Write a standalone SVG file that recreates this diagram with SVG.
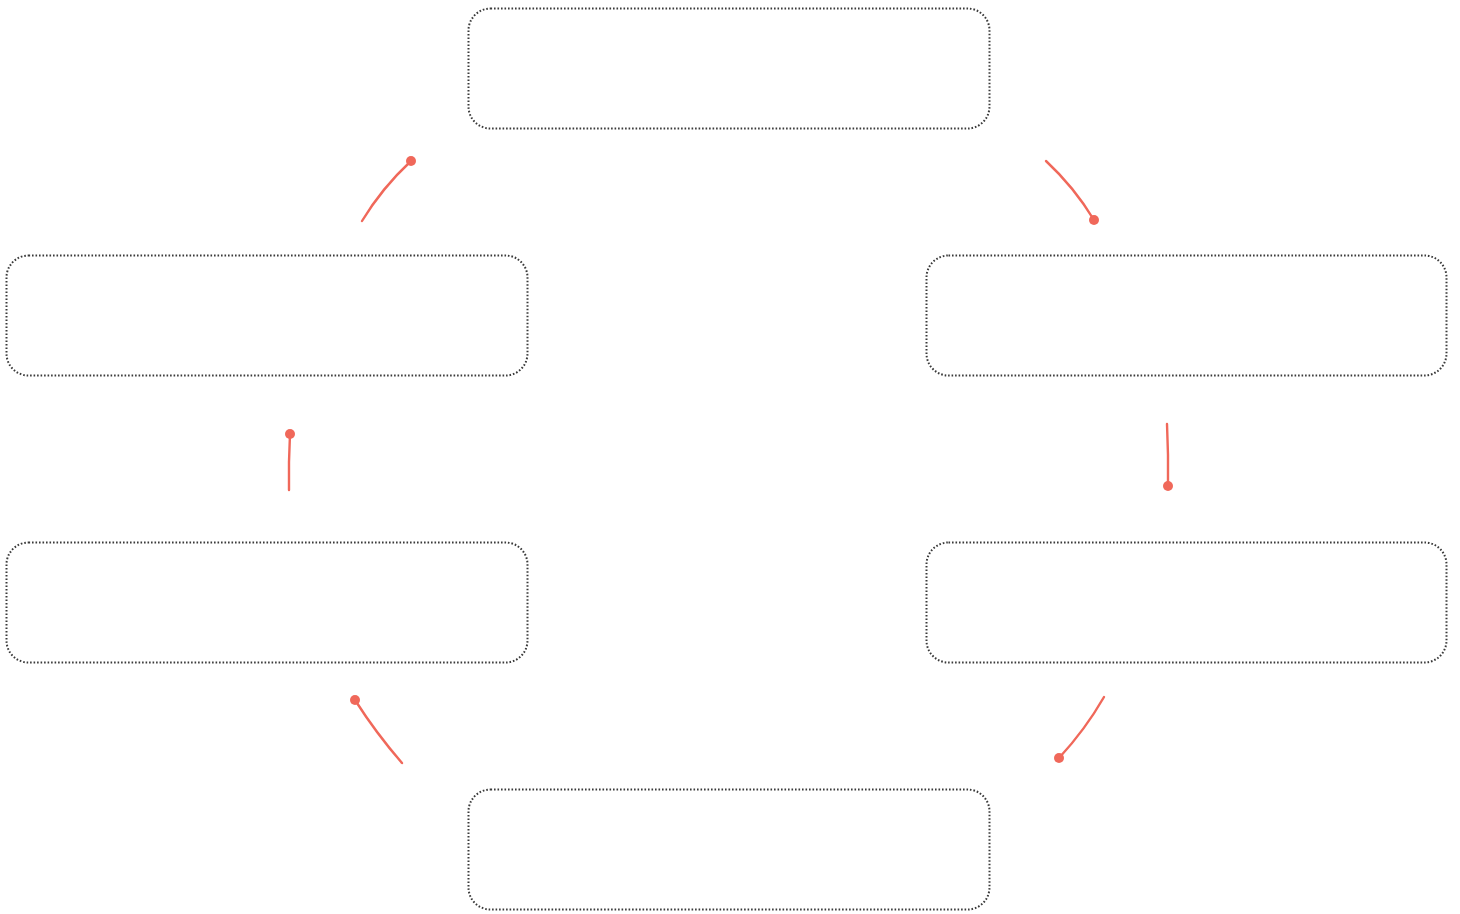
<svg xmlns="http://www.w3.org/2000/svg" width="1460" height="914" viewBox="0 0 1460 914">
<style>
.box{fill:#ffffff;stroke:#3a3a3a;stroke-width:2;stroke-dasharray:1.6 1.9}
.conn{fill:none;stroke:#f0685a;stroke-width:2.4;stroke-linecap:round}
.dot{fill:#f0685a}
</style>
<rect width="1460" height="914" fill="#ffffff"/>
<g id="node-top"><rect class="box" x="468.5" y="8.5" width="521" height="120" rx="22"/></g>
<g id="node-left-mid"><rect class="box" x="6.5" y="255.5" width="521" height="120" rx="22"/></g>
<g id="node-right-mid"><rect class="box" x="926.5" y="255.5" width="520" height="120" rx="22"/></g>
<g id="node-left-low"><rect class="box" x="6.5" y="542.5" width="521" height="120" rx="22"/></g>
<g id="node-right-low"><rect class="box" x="926.5" y="542.5" width="520" height="120" rx="22"/></g>
<g id="node-bottom"><rect class="box" x="468.5" y="789.5" width="521" height="120" rx="22"/></g>
<g id="connectors">
<path class="conn" d="M362,221 Q382,188 411,161"/><circle class="dot" cx="411" cy="161" r="5"/>
<path class="conn" d="M1046,161 Q1074,187 1094,220"/><circle class="dot" cx="1094" cy="220" r="5"/>
<path class="conn" d="M1167,424 Q1168.5,455 1168,486"/><circle class="dot" cx="1168" cy="486" r="5"/>
<path class="conn" d="M289,490 Q288.5,462 290,434"/><circle class="dot" cx="290" cy="434" r="5"/>
<path class="conn" d="M1104,697 Q1085,730 1059,758"/><circle class="dot" cx="1059" cy="758" r="5"/>
<path class="conn" d="M402,763 Q376,733 355,700"/><circle class="dot" cx="355" cy="700" r="5"/>
</g>
</svg>
